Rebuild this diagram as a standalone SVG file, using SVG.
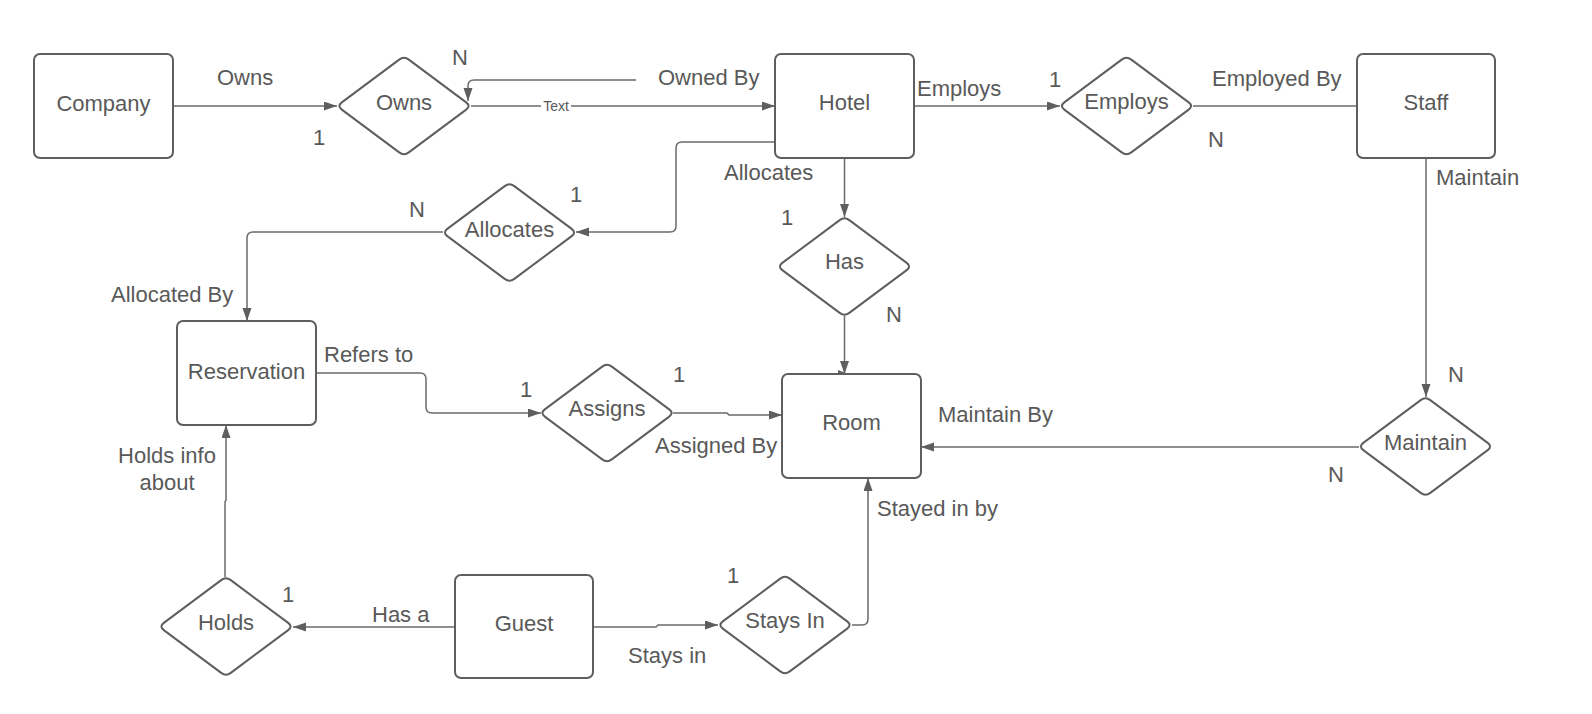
<svg xmlns="http://www.w3.org/2000/svg" xmlns:xlink="http://www.w3.org/1999/xlink" width="1592" height="714" viewBox="0 0 1592 714">
<style>
  .ent { fill: #ffffff; stroke: #5e5e5e; stroke-width: 2; }
  .rel { fill: #ffffff; stroke: #5e5e5e; stroke-width: 2; }
  .lbl { font-family: "Liberation Sans", Arial, sans-serif; font-size: 22px; fill: #595959; }
  .mid { text-anchor: middle; }
  .con { fill: none; stroke: #6a6a6a; stroke-width: 1.5; }
  .small { font-family: "Liberation Sans", Arial, sans-serif; font-size: 14px; fill: #595959; }
</style>
<defs>
  <marker id="arr" markerUnits="userSpaceOnUse" markerWidth="14" markerHeight="10" refX="13" refY="4.5" orient="auto">
    <path d="M0,0 L13,4.5 L0,9 Z" fill="#5e5e5e"/>
  </marker>
  <path id="dia" d="M-62.2,-3.6 L-4.8,-46.4 Q0,-50 4.8,-46.4 L62.2,-3.6 Q67,0 62.2,3.6 L4.8,46.4 Q0,50 -4.8,46.4 L-62.2,3.6 Q-67,0 -62.2,-3.6 Z"/>
</defs>
<rect width="1592" height="714" fill="#ffffff"/>

<g id="connectors">
  <path class="con" d="M173,106 H337" marker-end="url(#arr)"/>
  <path class="con" d="M471,106 H775" marker-end="url(#arr)"/>
  <path class="con" d="M636,80 H474 Q468,80 468,86 V101" marker-end="url(#arr)"/>
  <path class="con" d="M914,106 H1060" marker-end="url(#arr)"/>
  <path class="con" d="M1193,106 H1357"/>
  <path class="con" d="M1426,158 V397" marker-end="url(#arr)"/>
  <path class="con" d="M1359,447 H921" marker-end="url(#arr)"/>
  <path class="con" d="M844.5,158 V217" marker-end="url(#arr)"/>
  <path class="con" d="M844.5,316 V374" marker-end="url(#arr)"/>
  <path d="M838,370 L848,374 L838,377 Z" fill="#5e5e5e"/>
  <path class="con" d="M775,142 H682 Q676,142 676,148 V226 Q676,232 670,232 H576" marker-end="url(#arr)"/>
  <path class="con" d="M443,232 H253 Q247,232 247,238 V321" marker-end="url(#arr)"/>
  <path class="con" d="M316,373 H420 Q426,373 426,379 V407 Q426,413 432,413 H541" marker-end="url(#arr)"/>
  <path class="con" d="M673,413 H727 L729,415 H782" marker-end="url(#arr)"/>
  <path class="con" d="M225,577 V502 L226,500 V425" marker-end="url(#arr)"/>
  <path class="con" d="M455,627 H293" marker-end="url(#arr)"/>
  <path class="con" d="M593,627 H656 L658,625 H718" marker-end="url(#arr)"/>
  <path class="con" d="M852,625 H862 Q868,625 868,619 V478" marker-end="url(#arr)"/>
  <rect x="541" y="97" width="30" height="17" fill="#ffffff"/>
  <text class="small mid" x="556" y="111">Text</text>
</g>

<g id="company"><rect class="ent" x="34" y="54" width="139" height="104" rx="6"/><text class="lbl mid" x="103.5" y="111">Company</text></g>
<g id="hotel"><rect class="ent" x="775" y="54" width="139" height="104" rx="6"/><text class="lbl mid" x="844.5" y="110">Hotel</text></g>
<g id="staff"><rect class="ent" x="1357" y="54" width="138" height="104" rx="6"/><text class="lbl mid" x="1426" y="110">Staff</text></g>
<g id="reservation"><rect class="ent" x="177" y="321" width="139" height="104" rx="6"/><text class="lbl mid" x="246.5" y="379">Reservation</text></g>
<g id="room"><rect class="ent" x="782" y="374" width="139" height="104" rx="6"/><text class="lbl mid" x="851.5" y="430">Room</text></g>
<g id="guest"><rect class="ent" x="455" y="575" width="138" height="103" rx="6"/><text class="lbl mid" x="524" y="631">Guest</text></g>

<g id="owns"><use xlink:href="#dia" class="rel" transform="translate(404,106)"/><text class="lbl mid" x="404" y="110">Owns</text></g>
<g id="employs"><use xlink:href="#dia" class="rel" transform="translate(1126.5,106)"/><text class="lbl mid" x="1126.5" y="109">Employs</text></g>
<g id="allocates"><use xlink:href="#dia" class="rel" transform="translate(509.5,232.5)"/><text class="lbl mid" x="509.5" y="237">Allocates</text></g>
<g id="has"><use xlink:href="#dia" class="rel" transform="translate(844.5,266.5)"/><text class="lbl mid" x="844.5" y="269">Has</text></g>
<g id="assigns"><use xlink:href="#dia" class="rel" transform="translate(607,413)"/><text class="lbl mid" x="607" y="416">Assigns</text></g>
<g id="maintain"><use xlink:href="#dia" class="rel" transform="translate(1425.5,446.5)"/><text class="lbl mid" x="1425.5" y="450">Maintain</text></g>
<g id="holds"><use xlink:href="#dia" class="rel" transform="translate(226,626.5)"/><text class="lbl mid" x="226" y="630">Holds</text></g>
<g id="staysin"><use xlink:href="#dia" class="rel" transform="translate(785,625)"/><text class="lbl mid" x="785" y="628">Stays In</text></g>

<g id="labels">
  <text class="lbl" x="217" y="85">Owns</text>
  <text class="lbl" x="313" y="145">1</text>
  <text class="lbl" x="452" y="65">N</text>
  <text class="lbl" x="658" y="85">Owned By</text>
  <text class="lbl" x="917" y="96">Employs</text>
  <text class="lbl" x="1049" y="87">1</text>
  <text class="lbl" x="1212" y="86">Employed By</text>
  <text class="lbl" x="1208" y="147">N</text>
  <text class="lbl" x="1436" y="185">Maintain</text>
  <text class="lbl" x="1448" y="382">N</text>
  <text class="lbl" x="1328" y="482">N</text>
  <text class="lbl" x="938" y="422">Maintain By</text>
  <text class="lbl" x="724" y="180">Allocates</text>
  <text class="lbl" x="570" y="202">1</text>
  <text class="lbl" x="409" y="217">N</text>
  <text class="lbl" x="111" y="302">Allocated By</text>
  <text class="lbl" x="781" y="225">1</text>
  <text class="lbl" x="886" y="322">N</text>
  <text class="lbl" x="324" y="362">Refers to</text>
  <text class="lbl" x="520" y="397">1</text>
  <text class="lbl" x="673" y="382">1</text>
  <text class="lbl" x="655" y="453">Assigned By</text>
  <text class="lbl" x="877" y="516">Stayed in by</text>
  <text class="lbl mid" x="167" y="463">Holds info</text>
  <text class="lbl mid" x="167" y="490">about</text>
  <text class="lbl" x="282" y="602">1</text>
  <text class="lbl" x="372" y="622">Has a</text>
  <text class="lbl" x="727" y="583">1</text>
  <text class="lbl" x="628" y="663">Stays in</text>
</g>
</svg>
